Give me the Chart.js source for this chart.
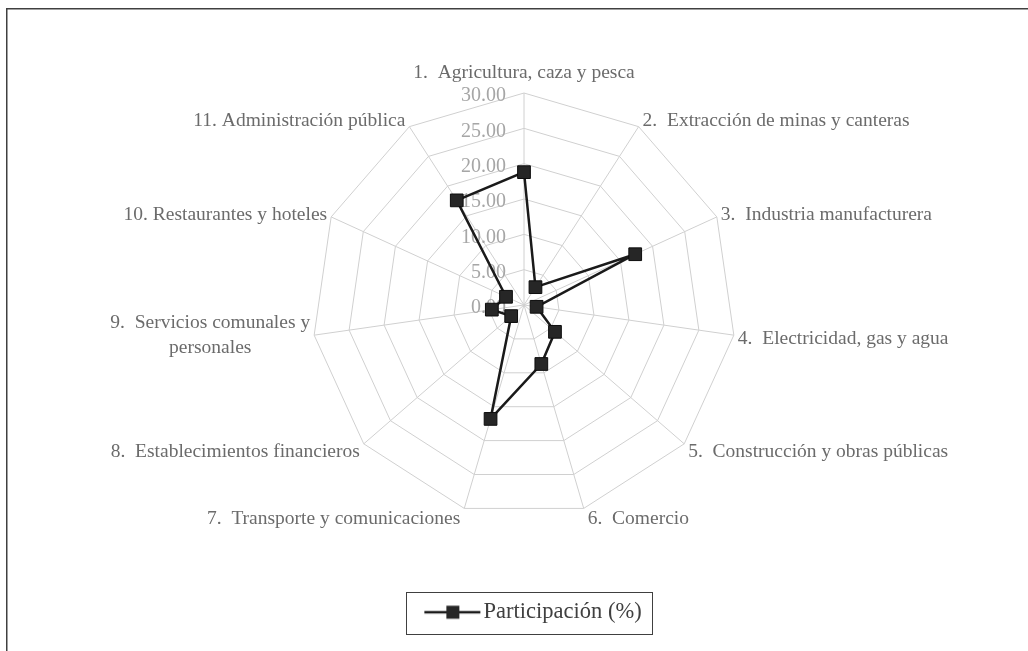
<!DOCTYPE html>
<html>
<head>
<meta charset="utf-8">
<script src="https://cdn.jsdelivr.net/npm/chart.js@4"></script>
<style>
  html, body { margin: 0; padding: 0; background: #fff; }
  #wrap { width: 1028px; height: 651px; position: relative; }
</style>
</head>
<body>
<div id="wrap"><canvas id="myChart"></canvas></div>
<script>
const categories = [
  "1.  Agricultura, caza y pesca",
  "2.  Extracción de minas y canteras",
  "3.  Industria manufacturera",
  "4.  Electricidad, gas y agua",
  "5.  Construcción y obras públicas",
  "6.  Comercio",
  "7.  Transporte y comunicaciones",
  "8.  Establecimientos financieros",
  ["9.  Servicios comunales y", "personales"],
  "10. Restaurantes y hoteles",
  "11. Administración pública"
];
const participacion = [18.8, 3.0, 17.3, 1.8, 5.8, 8.7, 16.8, 2.4, 4.6, 2.8, 17.6];
const tickLabels = ["0.00", "5.00", "10.00", "15.00", "20.00", "25.00", "30.00"];
const seriesName = "Participación (%)";

const serif = "'Liberation Serif', 'Times New Roman', serif";

// legend glyph: line with a square in the middle
const glyph = document.createElement("canvas");
glyph.width = 90;
glyph.height = 16;
const g = glyph.getContext("2d");
g.strokeStyle = "#1a1a1a";
g.lineWidth = 2.5;
g.beginPath();
g.moveTo(30, 8);
g.lineTo(86, 8);
g.stroke();
g.fillStyle = "#262626";
g.fillRect(52, 1.5, 13, 13);

const excelLook = {
  id: "excelLook",
  beforeDraw(chart) {
    const ctx = chart.ctx;
    ctx.save();
    ctx.strokeStyle = "#404040";
    ctx.lineWidth = 1.5;
    ctx.strokeRect(6.75, 8.75, 1200, 1200);
    ctx.restore();
  },
  beforeDatasetsDraw(chart) {
    const ctx = chart.ctx;
    const r = chart.scales.r;
    ctx.save();

    // tick labels, to the left of the vertical axis
    ctx.font = "20px " + serif;
    ctx.fillStyle = "#a6a6a6";
    ctx.textAlign = "right";
    ctx.textBaseline = "middle";
    tickLabels.forEach(function(t) {
      const d = r.getDistanceFromCenterForValue(parseFloat(t));
      ctx.fillText(t, r.xCenter - 18, r.yCenter - d + 3);
    });

    // category labels at the outer vertices
    ctx.font = "19.5px " + serif;
    ctx.fillStyle = "#6b6b6b";
    ctx.textAlign = "center";
    const lineH = 25;
    categories.forEach(function(label, i) {
      const lines = Array.isArray(label) ? label : [label];
      const p = r.getPointPosition(i, r.drawingArea);
      const a = r.getIndexAngle(i);
      const s = Math.sin(a), c = Math.cos(a);
      const w = Math.max.apply(null, lines.map(l => ctx.measureText(l).width));
      let left, cy;
      if (Math.abs(s) < 0.1) {
        left = p.x - w / 2;
        cy = c > 0 ? p.y - 20 : p.y + 14;
      } else {
        left = s > 0 ? p.x + 4 : p.x - 4 - w;
        cy = p.y + 2 - c * 9 - (lines.length - 1) * 3;
      }
      lines.forEach(function(l, k) {
        const y = cy - (lines.length - 1) * lineH / 2 + k * lineH;
        ctx.fillText(l, left + w / 2, y);
      });
    });
    ctx.restore();
  },
  afterDraw(chart) {
    const lg = chart.legend;
    if (!lg || !lg.legendHitBoxes.length) return;
    const hb = lg.legendHitBoxes[0];
    const ctx = chart.ctx;
    ctx.save();
    ctx.strokeStyle = "#404040";
    ctx.lineWidth = 1;
    ctx.strokeRect(Math.round(hb.left) + 0.5, Math.round(hb.top - 9) + 0.5,
      Math.round(hb.width + 11), Math.round(hb.height + 19));
    ctx.restore();
  }
};

const ctx = document.getElementById("myChart");

new Chart(ctx, {
  type: "radar",
  data: {
    labels: categories,
    datasets: [
      {
        label: seriesName,
        data: participacion,
        borderColor: "#1a1a1a",
        borderWidth: 2.5,
        fill: false,
        backgroundColor: "rgba(0,0,0,0)",
        pointStyle: "rect",
        pointRadius: 9,
        pointBackgroundColor: "#262626",
        pointBorderColor: "#0d0d0d",
        pointBorderWidth: 1,
        tension: 0
      }
    ]
  },
  options: {
    responsive: true,
    maintainAspectRatio: false,
    animation: false,
    layout: {
      padding: { top: 93, left: 20, right: 0, bottom: 17.5 }
    },
    plugins: {
      legend: {
        position: "bottom",
        labels: {
          usePointStyle: true,
          pointStyle: glyph,
          pointStyleWidth: 66,
          padding: 84,
          color: "#404040",
          font: { family: serif, size: 22.5 }
        }
      },
      tooltip: { enabled: false }
    },
    scales: {
      r: {
        min: 0,
        max: 30,
        ticks: { stepSize: 5, display: false },
        pointLabels: { display: false },
        grid: { color: "#d0d0d0", lineWidth: 1 },
        angleLines: { color: "#d0d0d0", lineWidth: 1 }
      }
    }
  },
  plugins: [excelLook]
});
</script>
</body>
</html>
